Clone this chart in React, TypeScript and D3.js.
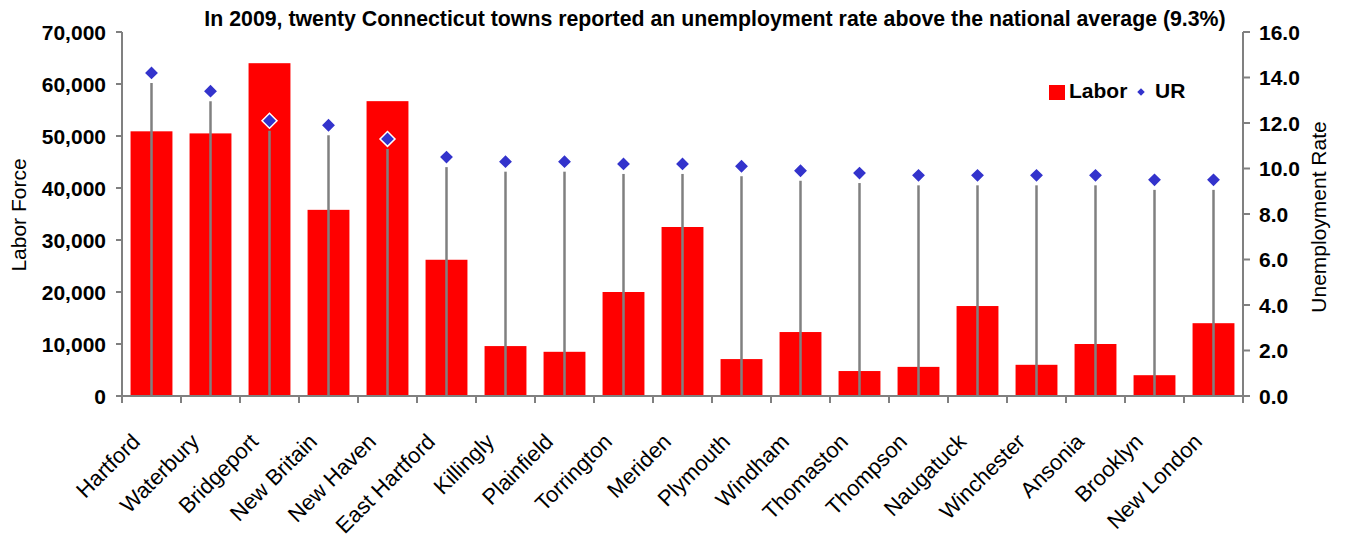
import React from "react";
import * as d3 from "d3";

const towns = [
  "Hartford", "Waterbury", "Bridgeport", "New Britain", "New Haven", "East Hartford",
  "Killingly", "Plainfield", "Torrington", "Meriden", "Plymouth", "Windham",
  "Thomaston", "Thompson", "Naugatuck", "Winchester", "Ansonia", "Brooklyn", "New London",
];
const labor = [
  50900, 50500, 64000, 35800, 56700, 26200, 9600, 8500, 20000, 32500, 7100, 12300,
  4800, 5600, 17300, 6000, 10000, 4000, 14000,
];
const ur = [
  14.2, 13.4, 12.1, 11.9, 11.3, 10.5, 10.3, 10.3, 10.2, 10.2, 10.1, 9.9,
  9.8, 9.7, 9.7, 9.7, 9.7, 9.5, 9.5,
];
const leftTicks = [0, 10000, 20000, 30000, 40000, 50000, 60000, 70000];
const rightTicks = [0, 2, 4, 6, 8, 10, 12, 14, 16];
const title = "In 2009, twenty Connecticut towns reported an unemployment rate above the national average (9.3%)";

const W = 1346, H = 538;
const X0 = 122, X1 = 1243, Y0 = 396, Y1 = 32;
const FONT = "'Liberation Sans', Arial, Helvetica, sans-serif";
const AX = "#808080";
const RED = "#FF0000";
const BLUE = "#3333CC";

export default function App() {
  const x = d3.scaleBand<string>().domain(towns).range([X0, X1]).padding(0);
  const yL = d3.scaleLinear().domain([0, 70000]).range([Y0, Y1]);
  const yR = d3.scaleLinear().domain([0, 16]).range([Y0, Y1]);
  const bw = x.bandwidth() * 0.71;
  const fmtL = d3.format(",");
  const fmtR = d3.format(".1f");
  const diamond = d3.symbol().type(d3.symbolSquare).size(112)() as string;
  const diamondSmall = d3.symbol().type(d3.symbolSquare).size(28)() as string;
  const boundaries = d3.range(towns.length + 1).map((i) => X0 + i * x.step());

  return (
    <svg width={W} height={H} style={{ position: "absolute", left: 0, top: 0, background: "#fff" }} fontFamily={FONT}>
      <rect x={0} y={0} width={W} height={H} fill="#fff" />
      {/* bars */}
      {towns.map((t, i) => (
        <rect key={"b" + t} x={(x(t) as number) + (x.bandwidth() - bw) / 2} y={yL(labor[i])}
          width={bw} height={Y0 - yL(labor[i])} fill={RED} />
      ))}
      {/* stems */}
      {towns.map((t, i) => {
        const cx = (x(t) as number) + x.bandwidth() / 2;
        return <line key={"s" + t} x1={cx} x2={cx} y1={yR(ur[i]) + 10} y2={Y0} stroke={AX} strokeWidth={2.5} />;
      })}
      {/* axes */}
      <line x1={X0} x2={X0} y1={Y1} y2={Y0 + 7} stroke={AX} strokeWidth={2} />
      <line x1={X1} x2={X1} y1={Y1} y2={Y0 + 7} stroke={AX} strokeWidth={2} />
      <line x1={X0 - 6} x2={X1 + 7} y1={Y0} y2={Y0} stroke={AX} strokeWidth={2} />
      {boundaries.map((bx, i) => (
        <line key={"xt" + i} x1={bx} x2={bx} y1={Y0} y2={Y0 + 7} stroke={AX} strokeWidth={2} />
      ))}
      {leftTicks.map((v) => (
        <g key={"lt" + v}>
          <line x1={X0 - 6} x2={X0} y1={yL(v)} y2={yL(v)} stroke={AX} strokeWidth={2} />
          <text x={X0 - 16} y={yL(v)} dy="0.36em" textAnchor="end" fontSize={21} fontWeight="bold" fill="#000">{fmtL(v)}</text>
        </g>
      ))}
      {rightTicks.map((v) => (
        <g key={"rt" + v}>
          <line x1={X1} x2={X1 + 7} y1={yR(v)} y2={yR(v)} stroke={AX} strokeWidth={2} />
          <text x={X1 + 16} y={yR(v)} dy="0.36em" textAnchor="start" fontSize={21} fontWeight="bold" fill="#000">{fmtR(v)}</text>
        </g>
      ))}
      {/* diamonds */}
      {towns.map((t, i) => {
        const cx = (x(t) as number) + x.bandwidth() / 2;
        return <path key={"d" + t} d={diamond} transform={`translate(${cx},${yR(ur[i])}) rotate(45)`}
          fill={BLUE} stroke="#fff" strokeWidth={1.5} />;
      })}
      {/* category labels */}
      {towns.map((t) => {
        const cx = (x(t) as number) + x.bandwidth() / 2;
        return <text key={"c" + t} transform={`translate(${cx - 10},443) rotate(-45)`} textAnchor="end"
          fontSize={22} fill="#000">{t}</text>;
      })}
      {/* axis titles */}
      <text transform="translate(26,215) rotate(-90)" textAnchor="middle" fontSize={21} fill="#000">Labor Force</text>
      <text transform="translate(1326,217) rotate(-90)" textAnchor="middle" fontSize={21} fill="#000">Unemployment Rate</text>
      {/* title */}
      <text x={715} y={26} textAnchor="middle" fontSize={21.3} fontWeight="bold" fill="#000">{title}</text>
      {/* legend */}
      <rect x={1049} y={85} width={16} height={15} fill={RED} />
      <text x={1069} y={98} fontSize={21} fontWeight="bold" fill="#000">Labor</text>
      <path d={diamondSmall} transform="translate(1141,92) rotate(45)" fill={BLUE} />
      <text x={1155} y={98} fontSize={21} fontWeight="bold" fill="#000">UR</text>
    </svg>
  );
}
